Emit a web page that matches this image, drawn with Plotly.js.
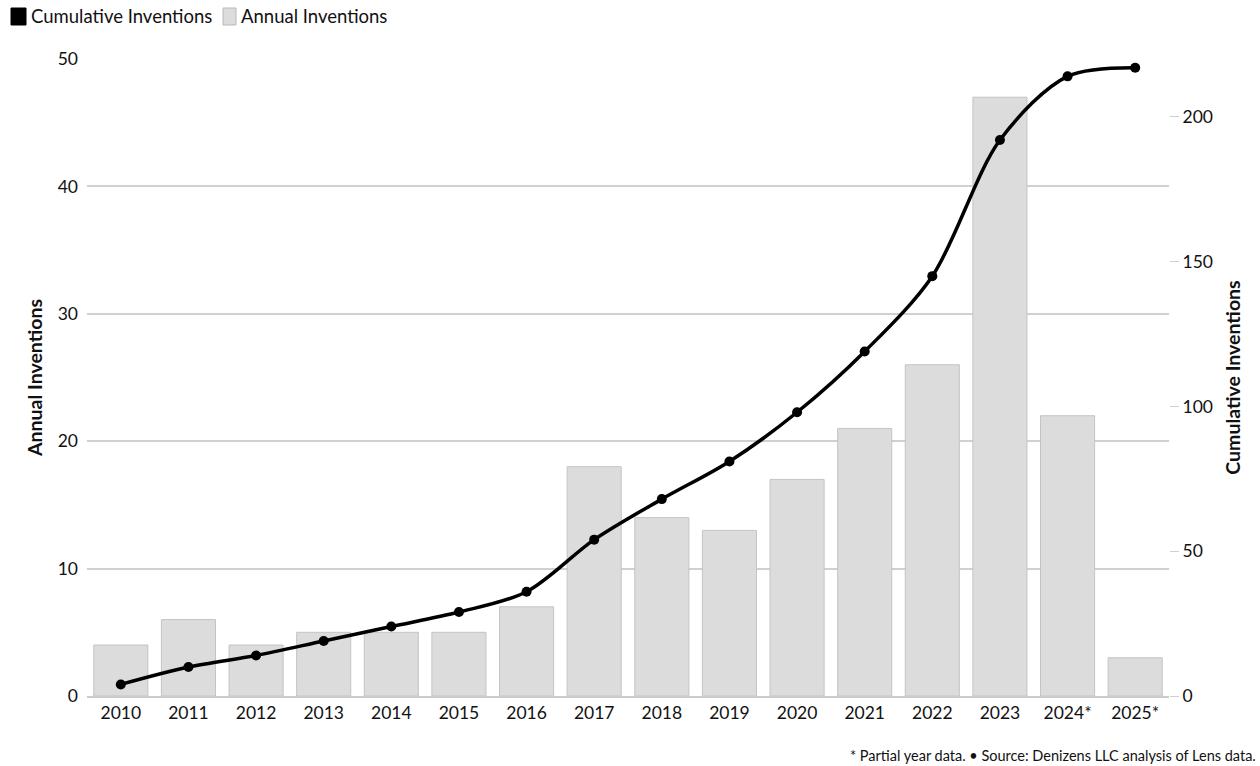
<!DOCTYPE html>
<html>
<head>
<meta charset="utf-8">
<script src="https://cdn.plot.ly/plotly-3.0.1.min.js"></script>
<style>
html,body{margin:0;padding:0;background:#fff;}
#chart{width:1260px;height:766px;}
</style>
</head>
<body>
<div id="chart"></div>
<script>
const years = ["2010","2011","2012","2013","2014","2015","2016","2017","2018","2019","2020","2021","2022","2023","2024*","2025*"];
const annual = [4,6,4,5,5,5,7,18,14,13,17,21,26,47,22,3];
const cumulative = [4,10,14,19,24,29,36,54,68,81,98,119,145,192,214,217];
const leftTicks = [0,10,20,30,40,50];
const rightTicks = [0,50,100,150,200];

const FONT = "Lato, 'Noto Sans', sans-serif";

const traces = [
  {
    type: 'bar', name: 'Annual Inventions', x: years, y: annual, yaxis: 'y',
    marker: {color: '#dcdcdc', line: {color: '#c4c4c4', width: 1}},
    showlegend: false, hoverinfo: 'x+y'
  },
  {
    type: 'scatter', mode: 'lines+markers', name: 'Cumulative Inventions', x: years, y: cumulative, yaxis: 'y2',
    line: {color: '#000', width: 3.5, shape: 'spline', smoothing: 0.9},
    marker: {color: '#000', size: 10},
    showlegend: false
  }
];

const layout = {
  width: 1260, height: 766,
  margin: {l: 87, r: 91, t: 59, b: 70},
  paper_bgcolor: '#fff', plot_bgcolor: '#fff',
  font: {family: FONT, size: 17, color: '#111'},
  bargap: 0.2,
  showlegend: false,
  xaxis: {
    type: 'category', range: [-0.5, 15.5],
    showgrid: false, zeroline: false,
    showline: true, linecolor: '#cccccc', linewidth: 2,
    ticks: '', tickfont: {family: FONT, size: 17.5, color: '#111'}
  },
  yaxis: {
    range: [0, 50], tickvals: leftTicks,
    showgrid: true, gridcolor: '#d0d0d0', gridwidth: 2,
    zeroline: false, showline: false, ticks: '',
    ticklabelstandoff: 8,
    tickfont: {family: FONT, size: 17.5, color: '#111'},
    title: {text: '<b>Annual Inventions</b>', font: {family: FONT, size: 19.5, color: '#111'}, standoff: 9}
  },
  yaxis2: {
    overlaying: 'y', side: 'right',
    range: [0, 220], tickvals: rightTicks,
    showgrid: false, zeroline: false, showline: false,
    ticks: 'outside', ticklen: 9, tickcolor: '#cfcfcf', tickwidth: 1,
    tickfont: {family: FONT, size: 17.5, color: '#111'},
    title: {text: '<b>Cumulative Inventions</b>', font: {family: FONT, size: 19.5, color: '#111'}, standoff: 14}
  },
  shapes: [
    {type: 'rect', xref: 'paper', yref: 'paper',
     x0: (11-87)/1082, x1: (26-87)/1082, y0: (696-25)/637, y1: (696-8)/637,
     fillcolor: '#000', line: {color: '#000', width: 1}},
    {type: 'rect', xref: 'paper', yref: 'paper',
     x0: (223-87)/1082, x1: (236-87)/1082, y0: (696-25)/637, y1: (696-8)/637,
     fillcolor: '#dcdcdc', line: {color: '#b8b8b8', width: 1}}
  ],
  annotations: [
    {text: 'Cumulative Inventions', xref: 'paper', yref: 'paper',
     x: (29-87)/1082, y: (696-16)/637, xanchor: 'left', yanchor: 'middle', showarrow: false,
     font: {family: FONT, size: 18.5, color: '#111'}},
    {text: 'Annual Inventions', xref: 'paper', yref: 'paper',
     x: (239-87)/1082, y: (696-16)/637, xanchor: 'left', yanchor: 'middle', showarrow: false,
     font: {family: FONT, size: 18.5, color: '#111'}},
    {text: '* Partial year data. • Source: Denizens LLC analysis of Lens data.', xref: 'paper', yref: 'paper',
     x: (1258-87)/1082, y: (696-755)/637, xanchor: 'right', yanchor: 'middle', showarrow: false,
     font: {family: FONT, size: 14.5, color: '#111'}}
  ]
};

Plotly.newPlot('chart', traces, layout, {displayModeBar: false, responsive: false});
</script>
</body>
</html>
